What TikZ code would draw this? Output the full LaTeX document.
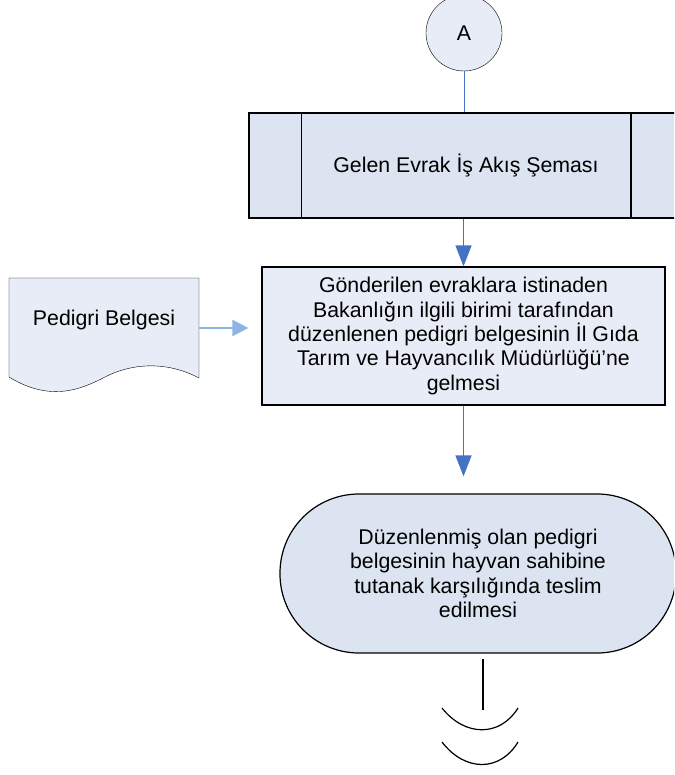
\documentclass[tikz,border=0pt]{standalone}
\usepackage{fontspec}
\setmainfont{Liberation Sans}
\usepackage{xcolor}
\usetikzlibrary{positioning}
\usetikzlibrary{arrows.meta}
\definecolor{boxblue}{RGB}{219,228,240}
\definecolor{paleblue}{RGB}{232,236,247}
\definecolor{lineblue}{RGB}{68,114,196}
\definecolor{lightarrow}{RGB}{141,180,226}

\begin{document}
\begin{tikzpicture}[x=1pt, y=-1pt, font=\fontsize{21.3}{24.3}\selectfont,
    flow/.style={draw=lineblue, line width=1.3pt, -{Triangle[length=21pt,width=16pt]}}]
    \useasboundingbox (0,0) rectangle (674,775);
    \clip (0,0) rectangle (674,775);
    % nodes
    \node[circle,draw,fill=paleblue,minimum size=76pt,inner sep=0pt] (A) at (464,33) {A};
    \node[rectangle,draw,line width=1.5pt,fill=boxblue,minimum width=434pt,minimum height=105pt] (sub) at (466,165.5) {Gelen Evrak İş Akış Şeması};
    \draw[line width=1.5pt] ([xshift=53pt]sub.north west) -- ([xshift=53pt]sub.south west);
    \draw[line width=1.5pt] ([xshift=-53pt]sub.north east) -- ([xshift=-53pt]sub.south east);
    \node[rectangle,draw,line width=1.2pt,fill=paleblue,minimum width=403pt,minimum height=138pt,align=center] (recv) at (463.5,336) {Gönderilen evraklara istinaden\\Bakanlığın ilgili birimi tarafından\\düzenlenen pedigri belgesinin İl Gıda\\Tarım ve Hayvancılık Müdürlüğü’ne\\gelmesi};
    \node[draw,line width=1.2pt,fill=boxblue,rounded corners=79pt,minimum width=396pt,minimum height=159pt,align=center] (deliver) at (478,573.5) {Düzenlenmiş olan pedigri\\belgesinin hayvan sahibine\\tutanak karşılığında teslim\\edilmesi};
    % document
    \draw[fill=paleblue] (9,278) -- (199,278) -- (199,378) .. controls (165,360) and (130,364) .. (105,377) .. controls (80,390) and (50,402) .. (9,377) -- cycle;
    \node (doc) at (104,320) {Pedigri Belgesi};
    \coordinate (docout) at (199,328);
    \coordinate (brk) at (483,710);
    % connectors
    \draw[lineblue,line width=1pt] (A.south) -- (A.south |- sub.north);
    \draw[flow] (recv.north |- sub.south) -- (recv.north);
    \draw[flow,shorten >=17pt] (recv.south) -- (recv.south |- deliver.north);
    \draw[lightarrow,line width=2.7pt,-{Triangle[length=16pt,width=16pt]},shorten >=13pt] (docout) -- (docout -| recv.west);
    \draw[line width=1.2pt,shorten <=5pt] (brk |- deliver.south) -- (brk);
    % break
    \draw[line width=1.2pt] (442,708) .. controls (465,737) and (500,737) .. (518,708);
    \draw[line width=1.2pt] (442,742) .. controls (465,772) and (500,772) .. (518,742);
\end{tikzpicture}
\end{document}
